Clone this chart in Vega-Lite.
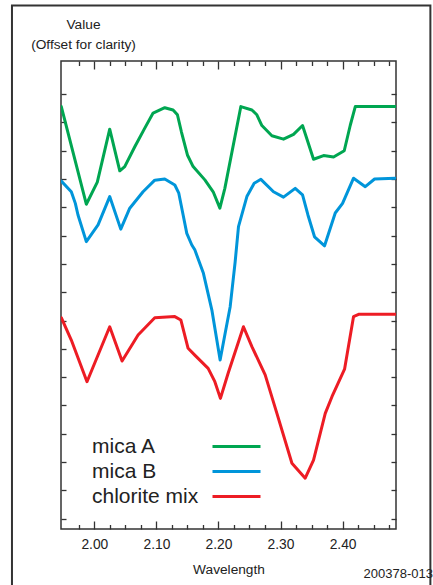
{
  "$schema": "https://vega.github.io/schema/vega-lite/v6.json",
  "width": 335,
  "height": 468,
  "autosize": {"type": "none"},
  "padding": {"left": 61, "top": 61, "right": 37, "bottom": 56},
  "background": "white",
  "config": {
    "view": {"stroke": "#333", "strokeWidth": 1.5},
    "axis": {
      "grid": false,
      "domain": false,
      "tickColor": "#333",
      "tickWidth": 1.3,
      "labelFont": "Liberation Sans",
      "labelFontSize": 13.8,
      "labelColor": "#222",
      "titleFont": "Liberation Sans",
      "titleFontSize": 13.7,
      "titleFontWeight": "normal",
      "titleColor": "#222"
    }
  },
  "title": {
    "text": "200378-013",
    "orient": "bottom",
    "anchor": "end",
    "frame": "group",
    "font": "Liberation Sans",
    "fontSize": 13,
    "fontWeight": "normal",
    "color": "#222",
    "dx": 37,
    "offset": 0,
    "dy": -20
  },
  "data": {
    "values": [
      {"s": "mica A", "w": 1.9468, "v": 14.56}, {"s": "mica A", "w": 1.9871, "v": 11.11}, {"s": "mica A", "w": 2.0048, "v": 11.89}, {"s": "mica A", "w": 2.0248, "v": 13.76}, {"s": "mica A", "w": 2.041, "v": 12.29}, {"s": "mica A", "w": 2.049, "v": 12.44}, {"s": "mica A", "w": 2.0652, "v": 13.14}, {"s": "mica A", "w": 2.0813, "v": 13.8}, {"s": "mica A", "w": 2.0947, "v": 14.33}, {"s": "mica A", "w": 2.1135, "v": 14.52}, {"s": "mica A", "w": 2.1269, "v": 14.44}, {"s": "mica A", "w": 2.1339, "v": 14.27}, {"s": "mica A", "w": 2.1403, "v": 13.67}, {"s": "mica A", "w": 2.15, "v": 12.85}, {"s": "mica A", "w": 2.1592, "v": 12.44}, {"s": "mica A", "w": 2.1781, "v": 11.97}, {"s": "mica A", "w": 2.1915, "v": 11.55}, {"s": "mica A", "w": 2.2023, "v": 10.97}, {"s": "mica A", "w": 2.2103, "v": 11.67}, {"s": "mica A", "w": 2.2361, "v": 14.56}, {"s": "mica A", "w": 2.2539, "v": 14.44}, {"s": "mica A", "w": 2.2619, "v": 14.27}, {"s": "mica A", "w": 2.27, "v": 13.89}, {"s": "mica A", "w": 2.2861, "v": 13.53}, {"s": "mica A", "w": 2.3048, "v": 13.41}, {"s": "mica A", "w": 2.321, "v": 13.58}, {"s": "mica A", "w": 2.3355, "v": 13.89}, {"s": "mica A", "w": 2.3532, "v": 12.7}, {"s": "mica A", "w": 2.3694, "v": 12.83}, {"s": "mica A", "w": 2.3855, "v": 12.78}, {"s": "mica A", "w": 2.4027, "v": 13.0}, {"s": "mica A", "w": 2.4124, "v": 13.9}, {"s": "mica A", "w": 2.4205, "v": 14.56}, {"s": "mica A", "w": 2.485, "v": 14.56},
      {"s": "mica B", "w": 1.9468, "v": 11.93}, {"s": "mica B", "w": 1.9629, "v": 11.55}, {"s": "mica B", "w": 1.9694, "v": 11.14}, {"s": "mica B", "w": 1.9737, "v": 10.73}, {"s": "mica B", "w": 1.9871, "v": 9.79}, {"s": "mica B", "w": 2.006, "v": 10.38}, {"s": "mica B", "w": 2.0248, "v": 11.38}, {"s": "mica B", "w": 2.0426, "v": 10.23}, {"s": "mica B", "w": 2.0571, "v": 10.97}, {"s": "mica B", "w": 2.0785, "v": 11.55}, {"s": "mica B", "w": 2.0974, "v": 11.96}, {"s": "mica B", "w": 2.1135, "v": 12.0}, {"s": "mica B", "w": 2.1297, "v": 11.79}, {"s": "mica B", "w": 2.1361, "v": 11.5}, {"s": "mica B", "w": 2.1431, "v": 10.73}, {"s": "mica B", "w": 2.149, "v": 10.08}, {"s": "mica B", "w": 2.1571, "v": 9.67}, {"s": "mica B", "w": 2.1619, "v": 9.5}, {"s": "mica B", "w": 2.1758, "v": 8.67}, {"s": "mica B", "w": 2.1894, "v": 7.37}, {"s": "mica B", "w": 2.2027, "v": 5.61}, {"s": "mica B", "w": 2.2108, "v": 6.55}, {"s": "mica B", "w": 2.2189, "v": 7.49}, {"s": "mica B", "w": 2.2269, "v": 9.07}, {"s": "mica B", "w": 2.2323, "v": 10.32}, {"s": "mica B", "w": 2.2458, "v": 11.38}, {"s": "mica B", "w": 2.2576, "v": 11.85}, {"s": "mica B", "w": 2.2684, "v": 11.99}, {"s": "mica B", "w": 2.2887, "v": 11.55}, {"s": "mica B", "w": 2.3048, "v": 11.36}, {"s": "mica B", "w": 2.3237, "v": 11.67}, {"s": "mica B", "w": 2.3355, "v": 11.44}, {"s": "mica B", "w": 2.3442, "v": 10.73}, {"s": "mica B", "w": 2.3548, "v": 9.96}, {"s": "mica B", "w": 2.371, "v": 9.64}, {"s": "mica B", "w": 2.3882, "v": 10.8}, {"s": "mica B", "w": 2.4, "v": 11.14}, {"s": "mica B", "w": 2.4177, "v": 12.03}, {"s": "mica B", "w": 2.4366, "v": 11.73}, {"s": "mica B", "w": 2.4516, "v": 12.0}, {"s": "mica B", "w": 2.485, "v": 12.03},
      {"s": "chlorite mix", "w": 1.9468, "v": 7.1}, {"s": "chlorite mix", "w": 1.9629, "v": 6.31}, {"s": "chlorite mix", "w": 1.9882, "v": 4.84}, {"s": "chlorite mix", "w": 2.0248, "v": 6.78}, {"s": "chlorite mix", "w": 2.0447, "v": 5.57}, {"s": "chlorite mix", "w": 2.0705, "v": 6.49}, {"s": "chlorite mix", "w": 2.0974, "v": 7.1}, {"s": "chlorite mix", "w": 2.1297, "v": 7.14}, {"s": "chlorite mix", "w": 2.1394, "v": 7.02}, {"s": "chlorite mix", "w": 2.1511, "v": 6.02}, {"s": "chlorite mix", "w": 2.1619, "v": 5.78}, {"s": "chlorite mix", "w": 2.1834, "v": 5.31}, {"s": "chlorite mix", "w": 2.1942, "v": 4.84}, {"s": "chlorite mix", "w": 2.2032, "v": 4.25}, {"s": "chlorite mix", "w": 2.2156, "v": 5.14}, {"s": "chlorite mix", "w": 2.2403, "v": 6.78}, {"s": "chlorite mix", "w": 2.2539, "v": 6.08}, {"s": "chlorite mix", "w": 2.2753, "v": 5.08}, {"s": "chlorite mix", "w": 2.2942, "v": 3.72}, {"s": "chlorite mix", "w": 2.3184, "v": 1.96}, {"s": "chlorite mix", "w": 2.3398, "v": 1.43}, {"s": "chlorite mix", "w": 2.3532, "v": 2.07}, {"s": "chlorite mix", "w": 2.3721, "v": 3.72}, {"s": "chlorite mix", "w": 2.3829, "v": 4.31}, {"s": "chlorite mix", "w": 2.4032, "v": 5.28}, {"s": "chlorite mix", "w": 2.4177, "v": 7.14}, {"s": "chlorite mix", "w": 2.4258, "v": 7.22}, {"s": "chlorite mix", "w": 2.485, "v": 7.22}
    ]
  },
  "layer": [
    {
      "data": {"values": [{}]},
      "mark": {"type": "rect", "fill": null, "stroke": "#333", "strokeWidth": 2, "clip": false},
      "encoding": {
        "x": {"datum": 1.8673, "type": "quantitative", "axis": null, "scale": {"domain": [1.9463, 2.4861], "nice": false, "zero": false}},
        "x2": {"datum": 2.5415},
        "y": {"datum": 18.13, "type": "quantitative", "axis": null, "scale": {"domain": [-0.364, 16.17], "nice": false, "zero": false}},
        "y2": {"datum": -2.4}
      }
    },
    {
      "mark": {"type": "line", "strokeWidth": 3, "strokeJoin": "round", "strokeCap": "round", "clip": true},
      "encoding": {
        "x": {
          "field": "w", "type": "quantitative",
          "scale": {"domain": [1.9463, 2.4861], "nice": false, "zero": false},
          "axis": {"orient": "bottom", "values": [2.0, 2.1, 2.2, 2.3, 2.4], "tickSize": -8, "format": ".2f", "labelPadding": 16, "labelFlush": false, "title": "Wavelength", "titlePadding": 12}
        },
        "y": {
          "field": "v", "type": "quantitative",
          "scale": {"domain": [-0.364, 16.17], "nice": false, "zero": false},
          "axis": {"orient": "left", "values": [0, 1, 2, 3, 4, 5, 6, 7, 8, 9, 10, 11, 12, 13, 14, 15], "tickSize": -5, "labels": false, "title": ["Value", "(Offset for clarity)"], "titleAngle": 0, "titleAlign": "center", "titleBaseline": "top", "titleX": 22, "titleY": -44, "titleLineHeight": 20}
        },
        "color": {
          "field": "s", "type": "nominal",
          "scale": {"domain": ["mica A", "mica B", "chlorite mix"], "range": ["#00a651", "#0095da", "#ed1c24"]},
          "legend": {"orient": "none", "legendX": 27, "legendY": 374, "title": null, "symbolType": "M-2.4,0H2.4", "symbolSize": 400, "symbolStrokeWidth": 3, "symbolFillColor": "transparent", "symbolOffset": 137, "labelOffset": -156, "rowPadding": 3, "labelFont": "Liberation Sans", "labelFontSize": 21, "labelColor": "#222", "padding": 0, "labelLimit": 400}
        }
      }
    },
    {
      "mark": {"type": "line", "opacity": 0},
      "encoding": {
        "x": {"field": "w", "type": "quantitative", "scale": {"domain": [1.9463, 2.4861], "nice": false, "zero": false},
          "axis": {"orient": "bottom", "values": [1.975, 2.025, 2.05, 2.075, 2.125, 2.15, 2.175, 2.225, 2.25, 2.275, 2.325, 2.35, 2.375, 2.425, 2.45, 2.475], "tickSize": -4.5, "labels": false, "title": null}},
        "y": {"field": "v", "type": "quantitative", "scale": {"domain": [-0.364, 16.17], "nice": false, "zero": false},
          "axis": {"orient": "right", "values": [0, 1, 2, 3, 4, 5, 6, 7, 8, 9, 10, 11, 12, 13, 14, 15], "tickSize": -5, "labels": false, "title": null}},
        "detail": {"field": "s"}
      }
    },
    {
      "mark": {"type": "line", "opacity": 0},
      "encoding": {
        "x": {"field": "w", "type": "quantitative", "scale": {"domain": [1.9463, 2.4861], "nice": false, "zero": false},
          "axis": {"orient": "top", "values": [2.0, 2.1, 2.2, 2.3, 2.4], "tickSize": -8, "labels": false, "title": null}},
        "y": {"field": "v", "type": "quantitative", "scale": {"domain": [-0.364, 16.17], "nice": false, "zero": false}, "axis": null},
        "detail": {"field": "s"}
      }
    },
    {
      "mark": {"type": "line", "opacity": 0},
      "encoding": {
        "x": {"field": "w", "type": "quantitative", "scale": {"domain": [1.9463, 2.4861], "nice": false, "zero": false},
          "axis": {"orient": "top", "values": [1.975, 2.025, 2.05, 2.075, 2.125, 2.15, 2.175, 2.225, 2.25, 2.275, 2.325, 2.35, 2.375, 2.425, 2.45, 2.475], "tickSize": -4.5, "labels": false, "title": null}},
        "y": {"field": "v", "type": "quantitative", "scale": {"domain": [-0.364, 16.17], "nice": false, "zero": false}, "axis": null},
        "detail": {"field": "s"}
      }
    }
  ],
  "resolve": {"axis": {"x": "independent", "y": "independent"}}
}
